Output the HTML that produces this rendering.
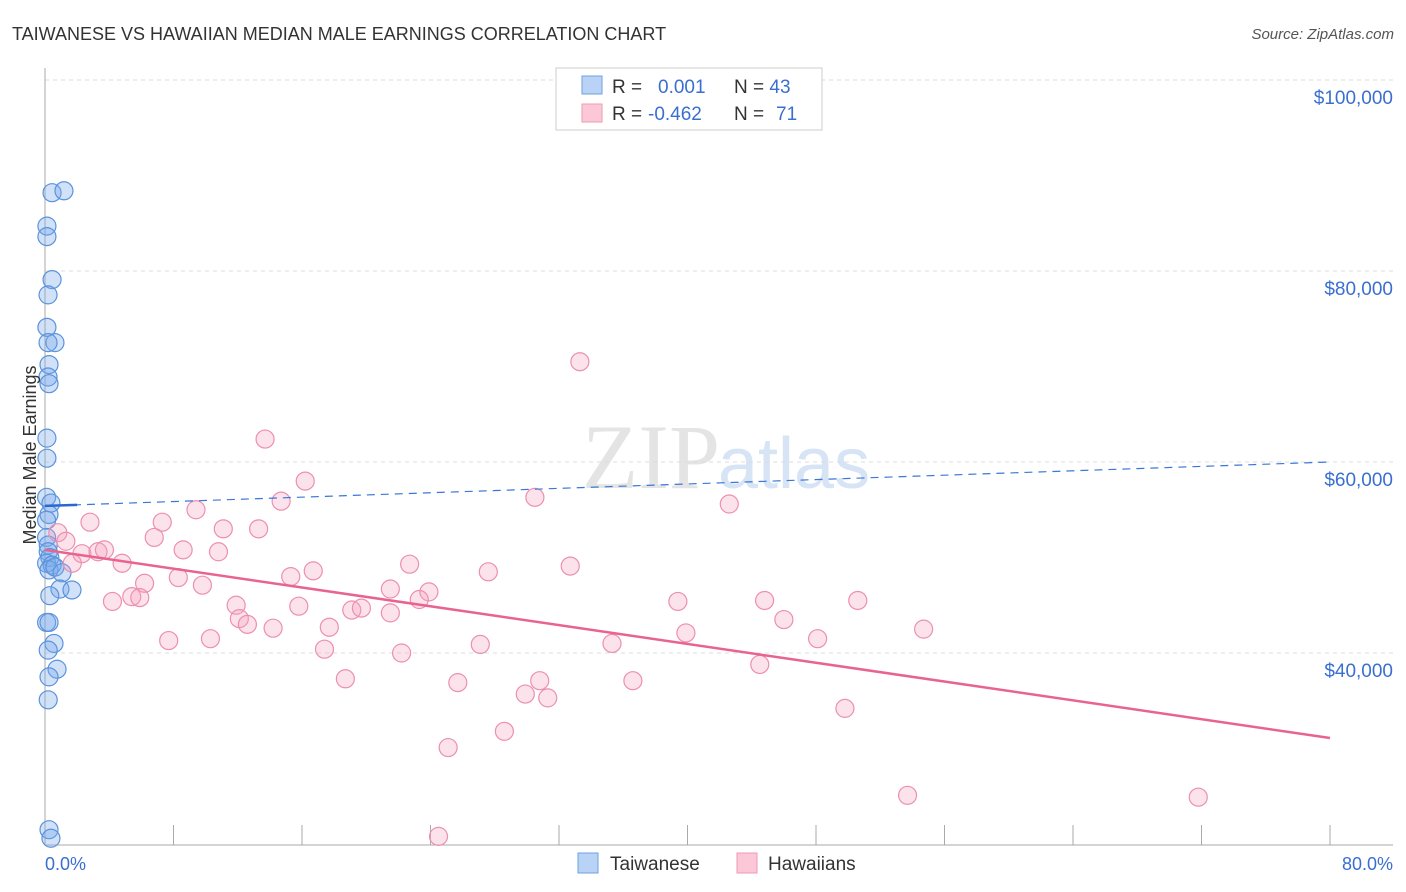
<!DOCTYPE html>
<html><head><meta charset="utf-8"><style>
body{margin:0;background:#fff;font-family:"Liberation Sans",sans-serif}
</style></head><body>
<svg id="c" width="1406" height="892" style="display:block">
<text x="12" y="40" font-size="18" fill="#333">TAIWANESE VS HAWAIIAN MEDIAN MALE EARNINGS CORRELATION CHART</text>
<text x="1394" y="39" font-size="15" fill="#555" font-style="italic" text-anchor="end">Source: ZipAtlas.com</text>
<text x="720" y="488" font-size="92" fill="#e4e4e4" text-anchor="end" font-family="Liberation Serif">ZIP</text>
<text x="718" y="488" font-size="72" fill="#d6e4f5">atlas</text>
<g id="grid"></g><g id="pts"></g><g id="lines"></g>
<text x="36" y="455" font-size="18" fill="#333" transform="rotate(-90 36 455)" text-anchor="middle">Median Male Earnings</text>
<text x="45" y="870" font-size="18" fill="#3a6fd0">0.0%</text>
<text x="1393" y="870" font-size="18" fill="#3a6fd0" text-anchor="end">80.0%</text>
<g>
<rect x="556" y="68" width="266" height="62" fill="#fff" stroke="#ccc"/>
<rect x="582" y="76" width="20" height="18" fill="#b8d3f5" stroke="#6fa0e0"/>
<rect x="582" y="104" width="20" height="18" fill="#fcc8d8" stroke="#ee9ab5"/>
<text x="612" y="93" font-size="19" fill="#333">R = <tspan fill="#3a6fd0" x="658">0.001</tspan><tspan x="734">N = </tspan><tspan fill="#3a6fd0">43</tspan></text>
<text x="612" y="120" font-size="19" fill="#333">R = <tspan fill="#3a6fd0" x="648">-0.462</tspan><tspan x="734">N = </tspan><tspan fill="#3a6fd0" x="776">71</tspan></text>
</g>
<g>
<rect x="578" y="853" width="20" height="20" fill="#b8d3f5" stroke="#6fa0e0"/>
<text x="610" y="870" font-size="19" fill="#333">Taiwanese</text>
<rect x="737" y="853" width="20" height="20" fill="#fcc8d8" stroke="#ee9ab5"/>
<text x="768" y="870" font-size="19" fill="#333">Hawaiians</text>
</g>
</svg>
<script>
const yTicks=[40000,60000,80000,100000];
const yTickLabels=["$40,000","$60,000","$80,000","$100,000"];
const xTicks=[0,8,16,24,32,40,48,56,64,72,80];
const taiX=[0.44,1.18,0.12,0.12,0.44,0.19,0.12,0.62,0.19,0.25,0.19,0.25,0.12,0.12,0.1,0.37,0.25,0.1,0.1,0.2,0.2,0.3,0.1,0.44,0.25,0.62,1.06,0.93,1.68,0.3,0.1,0.25,0.56,0.2,0.75,0.25,0.2,0.25,0.37];
const taiY=[88.2,88.4,84.7,83.6,79.1,77.5,74.1,72.5,72.5,70.2,68.9,68.2,62.5,60.4,56.3,55.7,54.5,53.9,52.1,51.3,50.6,50.0,49.4,49.2,48.7,49.0,48.4,46.7,46.6,46.0,43.2,43.2,41.0,40.3,38.3,37.5,35.1,21.5,20.6];
const hawX=[33.3,13.7,16.2,14.7,30.5,42.6,9.4,2.8,7.3,11.1,13.3,0.8,6.8,1.3,8.6,10.8,2.3,3.3,3.7,4.8,1.7,22.7,32.7,16.7,27.6,8.3,15.3,6.2,9.8,21.5,23.9,5.4,4.2,5.9,23.3,39.4,44.8,50.6,11.9,15.8,19.1,19.7,21.5,12.1,12.6,46.0,54.7,14.2,17.7,39.9,7.7,10.3,48.1,35.3,27.1,17.4,22.2,44.5,18.7,25.7,30.8,36.6,29.9,31.3,49.8,28.6,25.1,53.7,71.8,24.5];
const hawY=[70.5,62.4,58.0,55.9,56.3,55.6,55.0,53.7,53.7,53.0,53.0,52.6,52.1,51.7,50.8,50.6,50.4,50.6,50.8,49.4,49.4,49.3,49.1,48.6,48.5,47.9,48.0,47.3,47.1,46.7,46.4,45.9,45.4,45.8,45.6,45.4,45.5,45.5,45.0,44.9,44.5,44.7,44.2,43.6,43.0,43.5,42.5,42.6,42.7,42.1,41.3,41.5,41.5,41.0,40.9,40.4,40.0,38.8,37.3,36.9,37.1,37.1,35.7,35.3,34.2,31.8,30.1,25.1,24.9,20.8];
const taiTrend=[55.4,60.0];
const hawTrend=[50.8,31.1];
const NS="http://www.w3.org/2000/svg";
const X=v=>45+v*(1285/80);
const Y=v=>80+(100-v)*191/20;
function mk(p,t,a){const e=document.createElementNS(NS,t);for(const k in a)e.setAttribute(k,a[k]);document.getElementById(p).appendChild(e);return e;}
yTicks.forEach((t,i)=>{const y=Y(t/1000);
const g=mk('grid','line',{x1:45,x2:1393,y1:y,y2:y,stroke:'#ddd','stroke-dasharray':'4,4'});


const l=mk('grid','text',{x:1393,y:y+24,'font-size':19,fill:'#3a6fd0','text-anchor':'end'});
l.textContent=yTickLabels[i];

});
const ax=mk('grid','line',{x1:45,x2:45,y1:68,y2:845,stroke:'#aaa'});


const bx=mk('grid','line',{x1:45,x2:1393,y1:845,y2:845,stroke:'#aaa'});


xTicks.forEach(t=>{const k=mk('grid','line',{x1:X(t),x2:X(t),y1:825,y2:845,stroke:'#aaa'});

});
taiX.forEach((v,i)=>{const c=mk('pts','circle',{cx:X(v),cy:Y(taiY[i]),r:9,fill:'rgba(120,170,235,0.35)',stroke:'#5b93dc','stroke-width':1.2});

});
hawX.forEach((v,i)=>{const c=mk('pts','circle',{cx:X(v),cy:Y(hawY[i]),r:9,fill:'rgba(245,160,190,0.3)',stroke:'#ec8fb0','stroke-width':1.2});

});
const td=mk('lines','line',{x1:X(0),x2:X(80),y1:Y(taiTrend[0]),y2:Y(taiTrend[1]),stroke:'#3a78d8','stroke-width':1.2,'stroke-dasharray':'8,6'});


const ts=mk('lines','line',{x1:X(0),x2:X(2),y1:Y(taiTrend[0]),y2:Y(taiTrend[0]+(taiTrend[1]-taiTrend[0])*2/80),stroke:'#2a68d0','stroke-width':2.5});


const hl=mk('lines','line',{x1:X(0),x2:X(80),y1:Y(hawTrend[0]),y2:Y(hawTrend[1]),stroke:'#e8648f','stroke-width':2.5});


</script>
</body></html>
